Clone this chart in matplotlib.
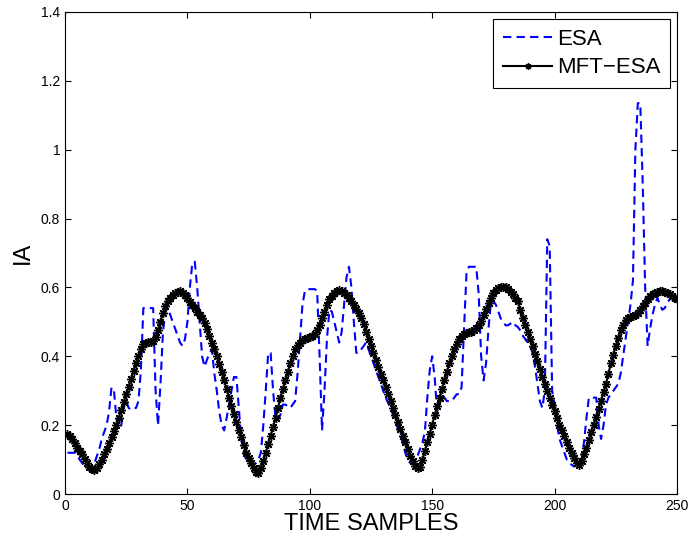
import numpy as np
import matplotlib
matplotlib.use("Agg")
import matplotlib.pyplot as plt

samples = np.arange(1, 251)

esa = [
    0.12, 0.12, 0.12, 0.12, 0.11, 0.10, 0.09, 0.08, 0.075, 0.07,
    0.075, 0.09, 0.11, 0.13, 0.16, 0.18, 0.20, 0.24, 0.31, 0.30,
    0.22, 0.19, 0.20, 0.26, 0.27, 0.25, 0.245, 0.25, 0.25, 0.27,
    0.36, 0.54, 0.54, 0.54, 0.54, 0.54, 0.30, 0.20, 0.32, 0.47,
    0.53, 0.54, 0.52, 0.50, 0.48, 0.46, 0.44, 0.43, 0.45, 0.50,
    0.60, 0.67, 0.675, 0.60, 0.50, 0.40, 0.37, 0.39, 0.41, 0.42,
    0.35, 0.30, 0.24, 0.20, 0.185, 0.22, 0.26, 0.30, 0.34, 0.34,
    0.25, 0.16, 0.12, 0.10, 0.09, 0.085, 0.085, 0.09, 0.10, 0.12,
    0.20, 0.30, 0.41, 0.41, 0.30, 0.22, 0.215, 0.23, 0.26, 0.26,
    0.255, 0.25, 0.26, 0.27, 0.35, 0.45, 0.55, 0.59, 0.595, 0.595,
    0.595, 0.595, 0.59, 0.40, 0.185, 0.30, 0.45, 0.535, 0.53, 0.50,
    0.47, 0.44, 0.47, 0.55, 0.63, 0.66, 0.60, 0.50, 0.41, 0.41,
    0.42, 0.43, 0.44, 0.42, 0.40, 0.38, 0.36, 0.34, 0.32, 0.30,
    0.28, 0.265, 0.25, 0.23, 0.21, 0.19, 0.17, 0.15, 0.12, 0.10,
    0.09, 0.09, 0.10, 0.11, 0.13, 0.15, 0.18, 0.28, 0.36, 0.40,
    0.34, 0.24, 0.26, 0.29, 0.28, 0.27, 0.27, 0.27, 0.28, 0.29,
    0.29, 0.31, 0.48, 0.64, 0.66, 0.66, 0.66, 0.66, 0.58, 0.40,
    0.33, 0.38, 0.48, 0.56, 0.56, 0.55, 0.53, 0.51, 0.50, 0.49,
    0.49, 0.495, 0.50, 0.49, 0.485, 0.475, 0.46, 0.45, 0.44, 0.43,
    0.41, 0.37, 0.32, 0.27, 0.25, 0.30, 0.74, 0.72, 0.30, 0.26,
    0.20, 0.16, 0.14, 0.12, 0.10, 0.09, 0.085, 0.08, 0.085, 0.09,
    0.10, 0.15, 0.22, 0.28, 0.28, 0.28, 0.28, 0.20, 0.16, 0.20,
    0.26, 0.28, 0.29, 0.30, 0.31, 0.32, 0.35, 0.40, 0.45, 0.50,
    0.55, 0.62, 1.00, 1.135, 1.135, 0.90, 0.60, 0.43, 0.48, 0.52,
    0.55, 0.57, 0.55, 0.535, 0.54, 0.555, 0.565, 0.575, 0.58, 0.57,
]

mft_esa = [
    0.175, 0.168, 0.160, 0.148, 0.135, 0.125, 0.115, 0.102, 0.090, 0.080,
    0.072, 0.070, 0.075, 0.087, 0.100, 0.115, 0.130, 0.147, 0.165, 0.182,
    0.200, 0.222, 0.245, 0.268, 0.290, 0.312, 0.335, 0.358, 0.380, 0.400,
    0.420, 0.435, 0.440, 0.442, 0.443, 0.445, 0.455, 0.475, 0.500, 0.525,
    0.545, 0.560, 0.570, 0.578, 0.584, 0.588, 0.590, 0.585, 0.578, 0.570,
    0.559, 0.548, 0.539, 0.530, 0.520, 0.510, 0.496, 0.480, 0.460, 0.440,
    0.420, 0.400, 0.378, 0.355, 0.330, 0.305, 0.280, 0.255, 0.232, 0.210,
    0.187, 0.165, 0.142, 0.120, 0.105, 0.090, 0.077, 0.065, 0.060, 0.075,
    0.097, 0.120, 0.145, 0.170, 0.195, 0.220, 0.250, 0.280, 0.305, 0.330,
    0.355, 0.380, 0.400, 0.420, 0.432, 0.440, 0.446, 0.450, 0.452, 0.455,
    0.459, 0.465, 0.476, 0.490, 0.510, 0.530, 0.548, 0.565, 0.576, 0.585,
    0.590, 0.592, 0.590, 0.585, 0.578, 0.570, 0.560, 0.550, 0.538, 0.525,
    0.510, 0.495, 0.472, 0.450, 0.430, 0.410, 0.390, 0.370, 0.350, 0.330,
    0.310, 0.290, 0.270, 0.250, 0.230, 0.210, 0.190, 0.170, 0.150, 0.130,
    0.112, 0.095, 0.082, 0.075, 0.080, 0.100, 0.125, 0.150, 0.175, 0.202,
    0.230, 0.255, 0.280, 0.305, 0.330, 0.355, 0.380, 0.400, 0.420, 0.437,
    0.450, 0.458, 0.465, 0.468, 0.470, 0.472, 0.475, 0.481, 0.490, 0.504,
    0.520, 0.538, 0.555, 0.570, 0.585, 0.592, 0.598, 0.601, 0.602, 0.600,
    0.595, 0.588, 0.580, 0.570, 0.560, 0.535, 0.510, 0.490, 0.470, 0.450,
    0.430, 0.408, 0.385, 0.362, 0.340, 0.320, 0.300, 0.280, 0.260, 0.240,
    0.220, 0.202, 0.185, 0.168, 0.150, 0.134, 0.118, 0.104, 0.090, 0.085,
    0.095, 0.115, 0.135, 0.158, 0.180, 0.202, 0.225, 0.248, 0.270, 0.295,
    0.320, 0.350, 0.380, 0.405, 0.430, 0.453, 0.475, 0.492, 0.505, 0.511,
    0.515, 0.518, 0.520, 0.527, 0.535, 0.545, 0.555, 0.565, 0.575, 0.580,
    0.585, 0.588, 0.590, 0.589, 0.587, 0.584, 0.580, 0.575, 0.570, 0.565,
]

x_ticks = [0, 50, 100, 150, 200, 250]
y_ticks = [0, 0.2, 0.4, 0.6, 0.8, 1.0, 1.2, 1.4]
y_ticklabels = ["0", "0.2", "0.4", "0.6", "0.8", "1", "1.2", "1.4"]

plt.rcParams['font.family'] = ['Liberation Sans', 'DejaVu Sans']

fig = plt.figure(figsize=(6.88, 5.40), dpi=100)
ax = fig.add_axes([0.0945, 0.085, 0.8895, 0.893])

ax.plot(samples, esa, color='#0000ff', linestyle=(0, (4, 2.5)), linewidth=1.5, label='ESA')
ax.plot(samples, mft_esa, color='black', linewidth=1.5, marker=(8, 2, 0), markersize=6.5,
        markeredgewidth=1.0, label='MFT\u2212ESA')

ax.set_xlim(0, 250)
ax.set_ylim(0, 1.4)
ax.set_xticks(x_ticks)
ax.set_yticks(y_ticks)
ax.set_yticklabels(y_ticklabels)
ax.tick_params(direction='in', length=4, labelsize=10, top=True, right=True)
ax.set_xlabel('TIME SAMPLES', fontsize=17, labelpad=0)
ax.set_ylabel('IA', fontsize=17, labelpad=5)

leg = ax.legend(loc='upper right', fontsize=16, fancybox=False, framealpha=1,
                edgecolor='black', handlelength=2.2, borderpad=0.45, labelspacing=0.35,
                handletextpad=0.2, borderaxespad=0.3, markerscale=0.7)
leg.get_frame().set_linewidth(0.8)

fig.savefig('out.png', dpi=100)
